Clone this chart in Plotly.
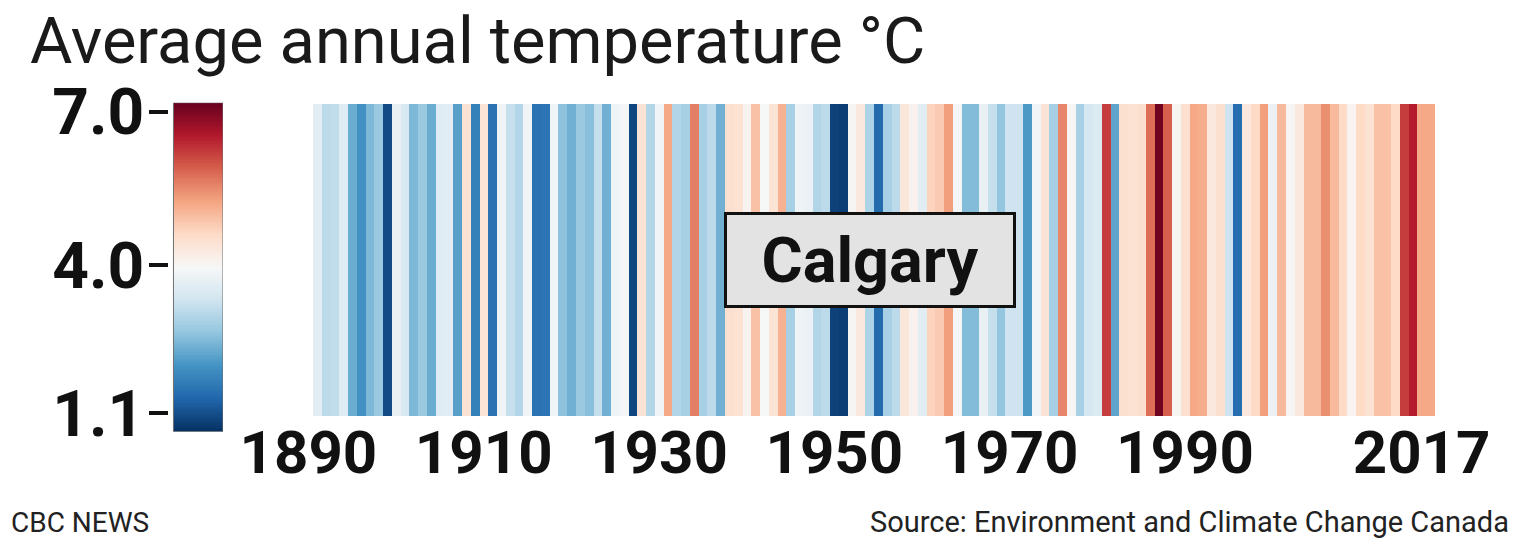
import numpy as np
import plotly.graph_objects as go

# ---------------- data ----------------
years = list(range(1890, 2018))
temps = [
    3.6, 3.1, 3.15, 3.55, 2.35, 2.0, 2.5, 2.75, 1.05, 3.7,   # 1890-1899
    3.45, 2.5, 2.75, 2.35, 3.55, 3.6, 2.2, 4.45, 1.75, 4.4,  # 1900-1909
    1.55, 3.85, 3.2, 3.0, 3.85, 1.55, 1.6, 3.85, 2.65, 2.4,  # 1910-1919
    2.75, 2.6, 3.2, 2.4, 3.8, 3.9, 1.0, 4.4, 3.0, 3.85,      # 1920-1929
    5.2, 3.0, 2.9, 5.6, 2.9, 3.1, 2.4, 4.5, 4.45, 4.05,      # 1930-1939
    4.9, 3.95, 4.4, 5.1, 2.9, 3.8, 3.75, 3.0, 3.1, 0.95,     # 1940-1949
    0.9, 4.0, 4.3, 2.95, 1.45, 2.9, 3.1, 4.35, 4.1, 3.6,     # 1950-1959
    4.7, 4.8, 5.3, 3.9, 2.55, 2.55, 3.7, 3.2, 2.7, 3.3,      # 1960-1969
    3.3, 2.1, 3.85, 4.4, 2.9, 5.55, 4.0, 2.9, 3.4, 3.5,      # 1970-1979
    6.2, 2.25, 4.5, 4.45, 4.5, 5.75, 7.1, 5.9, 4.0, 4.5,     # 1980-1989
    5.2, 5.15, 4.3, 4.5, 3.3, 1.5, 4.3, 4.6, 5.3, 3.75,      # 1990-1999
    5.0, 4.0, 4.3, 5.0, 5.0, 5.45, 5.0, 4.6, 4.05, 4.6,      # 2000-2009
    4.45, 4.9, 4.9, 4.6, 6.2, 6.5, 5.2, 5.2,                 # 2010-2017
]
year_ticks = [1890, 1910, 1930, 1950, 1970, 1990, 2017]
scale_ticks = [1.1, 4.0, 7.0]
scale_ticktext = ["1.1", "4.0", "7.0"]
zmin, zmax = 0.74, 7.18
city = "Calgary"
title = "Average annual temperature °C"
credit = "CBC NEWS"
source = "Source: Environment and Climate Change Canada"

rdbu = ['rgb(103,0,31)', 'rgb(178,24,43)', 'rgb(214,96,77)', 'rgb(244,165,130)',
        'rgb(253,219,199)', 'rgb(247,247,247)', 'rgb(209,229,240)', 'rgb(146,197,222)',
        'rgb(67,147,195)', 'rgb(33,102,172)', 'rgb(5,48,97)']
cscale = [[i / (len(rdbu) - 1), c] for i, c in enumerate(reversed(rdbu))]

W, H = 1522, 540
FONT = "Roboto, Open Sans, sans-serif"

fig = go.Figure()

# warming stripes
fig.add_trace(go.Heatmap(
    x=years, y=[0], z=[temps], colorscale=cscale, zmin=zmin, zmax=zmax,
    showscale=False, hoverinfo="x+z",
))

# legend bar as a second heatmap
n = 240
edges = np.linspace(zmin, zmax, n + 1)
mids = (edges[:-1] + edges[1:]) / 2
fig.add_trace(go.Heatmap(
    x=[-0.5, 0.5], y=edges, z=[[v] for v in mids], colorscale=cscale,
    zmin=zmin, zmax=zmax, showscale=False, xaxis="x2", yaxis="y2",
    hoverinfo="skip",
))

fig.update_layout(
    width=W, height=H,
    margin=dict(l=0, r=0, t=0, b=0, autoexpand=False),
    paper_bgcolor="white", plot_bgcolor="white",
    xaxis=dict(
        domain=[313 / W, 1435 / W], range=[1889.5, 2017.5],
        tickvals=year_ticks, ticktext=[str(y) for y in year_ticks],
        tickfont=dict(family=FONT, size=60, color="#111111", weight="bold"),
        showgrid=False, zeroline=False, showline=False, ticks="",
        tickangle=0, automargin=False, ticklabelshift=-9, ticklabelstandoff=-4,
    ),
    yaxis=dict(
        domain=[1 - 416 / H, 1 - 104 / H], range=[-0.5, 0.5],
        visible=False, automargin=False,
    ),
    xaxis2=dict(
        domain=[169 / W, 223 / W], range=[-0.59, 0.5], anchor="y2",
        visible=False, automargin=False,
    ),
    yaxis2=dict(
        domain=[1 - 431.7 / H, 1 - 102.7 / H], range=[zmin, zmax], anchor="x2",
        tickvals=scale_ticks, ticktext=scale_ticktext,
        ticks="outside", ticklen=19, tickwidth=4, tickcolor="#111111",
        tickfont=dict(family=FONT, size=64, color="#111111", weight="bold"),
        ticklabelstandoff=-8, automargin=False,
        showgrid=False, zeroline=False, showline=False,
    ),
    shapes=[dict(
        type="rect", xref="x2", yref="y2", x0=-0.5, x1=0.5, y0=zmin, y1=zmax,
        line=dict(color="#6e6e6e", width=1), fillcolor="rgba(0,0,0,0)",
    )],
    annotations=[
        dict(text=title, xref="paper", yref="paper", x=28 / W, y=1 - 1 / H,
             xanchor="left", yanchor="top", showarrow=False,
             font=dict(family=FONT, size=65, color="#1a1a1a")),
        dict(text=city, xref="x", yref="paper", x=1953, y=1 - 259.5 / H,
             xanchor="center", yanchor="middle", showarrow=False,
             width=284, height=88, borderpad=1, borderwidth=3,
             bordercolor="#111111", bgcolor="#e3e3e3",
             font=dict(family=FONT, size=63, color="#111111", weight="bold")),
        dict(text=credit, xref="paper", yref="paper", x=9 / W, y=1 - 522 / H,
             xanchor="left", yanchor="middle", showarrow=False,
             font=dict(family=FONT, size=28, color="#222222")),
        dict(text=source, xref="paper", yref="paper", x=1511 / W, y=1 - 522 / H,
             xanchor="right", yanchor="middle", showarrow=False,
             font=dict(family=FONT, size=29, color="#222222")),
    ],
)

fig.write_html("out.html")
